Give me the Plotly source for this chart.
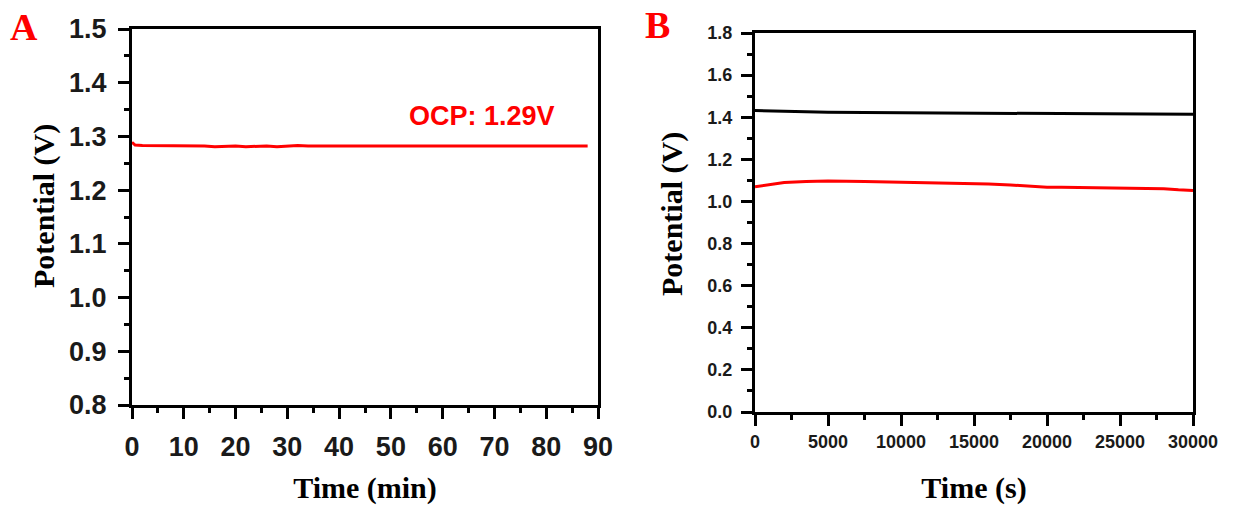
import plotly.graph_objects as go

# Panel A data: open-circuit potential vs time (min)
time_a_min = [0, 0.6, 2, 4, 6, 8, 10, 12, 14, 16, 18, 20, 22, 24, 26, 28, 30, 32, 34, 36, 38, 40, 42, 44,
              46, 48, 50, 52, 54, 56, 58, 60, 62, 64, 66, 68, 70, 72, 74, 76, 78, 80, 82, 84, 86, 88]
potential_a = [1.289, 1.284, 1.283, 1.283, 1.283, 1.282, 1.282, 1.283, 1.282, 1.281, 1.282, 1.282, 1.281,
               1.282, 1.282, 1.281, 1.282, 1.283, 1.282, 1.282, 1.282, 1.283, 1.283, 1.282, 1.283,
               1.283, 1.282, 1.283, 1.283, 1.282, 1.283, 1.282, 1.282, 1.283, 1.282, 1.282, 1.283,
               1.283, 1.282, 1.283, 1.283, 1.283, 1.282, 1.282, 1.282, 1.282]

# Panel B data: potential vs time (s)
time_b_black = [0, 1000, 2500, 5000, 7500, 10000, 12500, 15000, 17500, 20000, 22500, 25000, 27500, 30000]
potential_b_black = [1.432, 1.430, 1.427, 1.424, 1.422, 1.421, 1.419, 1.418, 1.417, 1.416, 1.416,
                     1.416, 1.415, 1.414]
time_b_red = [0, 500, 2000, 3500, 5000, 7500, 10000, 12500, 14000, 15000, 16000, 17500, 19000,
              20000, 21000, 22500, 25000, 27000, 28000, 29000, 30000]
potential_b_red = [1.070, 1.075, 1.090, 1.095, 1.097, 1.095, 1.092, 1.090, 1.088, 1.085, 1.083,
                   1.078, 1.072, 1.068, 1.068, 1.066, 1.062, 1.058, 1.060, 1.055, 1.052]

ocp_label = "OCP: 1.29V"
y_title = "Potential (V)"

W, H = 1256, 505
fig = go.Figure()
fig.add_trace(go.Scatter(x=time_a_min, y=potential_a, mode="lines",
                         line=dict(color="#ff0000", width=3), xaxis="x", yaxis="y", showlegend=False))
fig.add_trace(go.Scatter(x=time_b_black, y=potential_b_black, mode="lines",
                         line=dict(color="#000000", width=3), xaxis="x2", yaxis="y2", showlegend=False))
fig.add_trace(go.Scatter(x=time_b_red, y=potential_b_red, mode="lines",
                         line=dict(color="#ff0000", width=3), xaxis="x2", yaxis="y2", showlegend=False))

tick_a = dict(family="Liberation Sans, Arial", size=27, color="#1a1a1a", weight="bold")
tick_b = dict(family="Liberation Sans, Arial", size=18, color="#1a1a1a", weight="bold")
title_font = dict(family="Liberation Serif, Times New Roman", size=30, color="#000000", weight="bold")
panel_font = dict(family="Liberation Serif, Times New Roman", size=38, color="#ff0000", weight="bold")

common = dict(showline=True, linecolor="#000000", linewidth=3, mirror=True, ticks="outside",
              tickwidth=3, ticklen=11, tickcolor="#000000", showgrid=False, zeroline=False,
              automargin=False)
minor_common = dict(ticks="outside", ticklen=5, tickwidth=3, tickcolor="#000000", showgrid=False)


def paper_note(text, px, py, font, angle=0):
    return dict(text=text, x=px / W, y=(H - py) / H, xref="paper", yref="paper", showarrow=False,
                xanchor="center", yanchor="middle", textangle=angle, font=font)


fig.update_layout(
    width=W, height=H, margin=dict(l=0, r=0, t=0, b=0),
    paper_bgcolor="white", plot_bgcolor="white",
    xaxis=dict(domain=[132 / W, 598 / W], range=[0, 90], tickvals=[0, 10, 20, 30, 40, 50, 60, 70, 80, 90],
               minor=dict(dtick=5, tick0=0, **minor_common), tickfont=tick_a, ticklabelstandoff=5,
               title=dict(text="Time (min)", font=title_font, standoff=18), anchor="y", **common),
    yaxis=dict(domain=[(H - 405) / H, (H - 29) / H], range=[0.8, 1.5], dtick=0.1, tick0=0.8,
               tickformat=".1f", minor=dict(dtick=0.05, tick0=0.8, **minor_common), tickfont=tick_a,
               ticklabelstandoff=6, anchor="x", **common),
    xaxis2=dict(domain=[755 / W, 1193 / W], range=[0, 30000], dtick=5000, tick0=0, tickformat="d",
                minor=dict(dtick=2500, tick0=0, **minor_common), tickfont=tick_b,
                title=dict(text="Time (s)", font=title_font, standoff=34), anchor="y2", **common),
    yaxis2=dict(domain=[(H - 412) / H, (H - 33) / H], range=[0, 1.8], dtick=0.2, tick0=0,
                tickformat=".1f", minor=dict(dtick=0.1, tick0=0, **minor_common), tickfont=tick_b,
                ticklabelstandoff=5, anchor="x2", **common),
    annotations=[
        paper_note(y_title, 44, 206, title_font, -90),
        paper_note(y_title, 672, 214, title_font, -90),
        dict(text=ocp_label, x=67.5, y=1.338, xref="x", yref="y", showarrow=False,
             xanchor="center", yanchor="middle",
             font=dict(family="Liberation Sans, Arial", size=27, color="#ff0000", weight="bold")),
        paper_note("A", 24, 27, panel_font),
        paper_note("B", 657, 25, panel_font),
    ],
)

fig.write_html("out.html")
